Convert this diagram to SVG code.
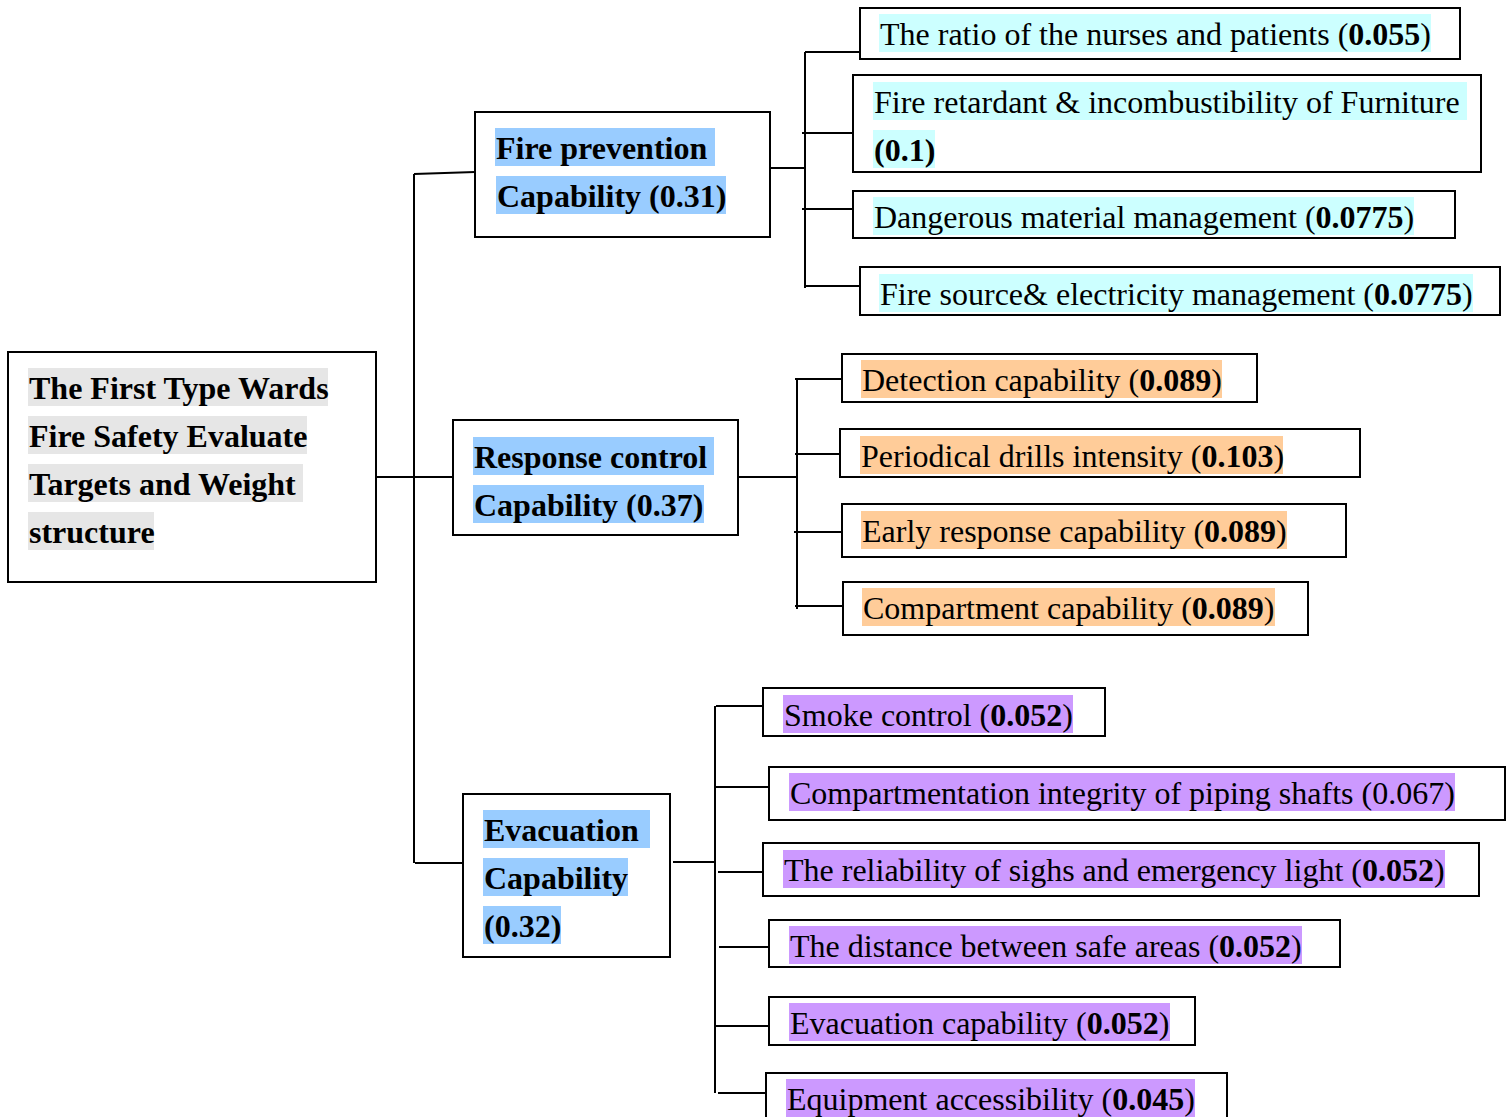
<svg xmlns="http://www.w3.org/2000/svg" width="1512" height="1117" viewBox="0 0 1512 1117">
<style>
.box{fill:#fff;stroke:#000;stroke-width:2}
.t{font-family:"Liberation Serif","Times New Roman",serif;font-size:32px;fill:#000}
.b{font-weight:bold}
.gray{fill:#e6e6e6}.blue{fill:#99ccff}.cyan{fill:#ccffff}.orange{fill:#ffcc99}.purple{fill:#cc99ff}
.con{stroke:#000;stroke-width:2;fill:none}
</style>
<rect width="1512" height="1117" fill="#fff"/>
<g id="connectors">
<path class="con" d="M376 477H453M414 174V863M414 174L475 172M415 863H463"/>
<path class="con" d="M770 168H805M805 52V288M805 52H860M802 133H855M802 209H855M806 286H862"/>
<path class="con" d="M738 477H798M797 379V609M795 379H845M795 454H842M794 532H845M795 606H845"/>
<path class="con" d="M673 862H715M715 706V1093M716 706H763M716 787H769M718 872H768M719 947H769M715 1026H769M718 1093H768"/>
</g>
<g id="root">
<rect class="box" x="8" y="352" width="368" height="230"/>
<rect class="gray" x="28" y="368" width="300" height="38"/>
<rect class="gray" x="28" y="416" width="279" height="38"/>
<rect class="gray" x="28" y="464" width="275" height="38"/>
<rect class="gray" x="28" y="512" width="126" height="38"/>
<text class="t b" x="29" y="399">The First Type Wards</text>
<text class="t b" x="29" y="447">Fire Safety Evaluate</text>
<text class="t b" x="29" y="495">Targets and Weight</text>
<text class="t b" x="29" y="543">structure</text>
</g>
<g id="fire-prevention">
<rect class="box" x="475" y="112" width="295" height="125"/>
<rect class="blue" x="495" y="128" width="220" height="38"/>
<rect class="blue" x="496" y="176" width="230" height="38"/>
<text class="t b" x="496" y="159">Fire prevention</text>
<text class="t b" x="497" y="207">Capability (0.31)</text>
</g>
<g id="response-control">
<rect class="box" x="453" y="420" width="285" height="115"/>
<rect class="blue" x="473" y="437" width="241" height="38"/>
<rect class="blue" x="473" y="485" width="231" height="38"/>
<text class="t b" x="474" y="468">Response control</text>
<text class="t b" x="474" y="516">Capability (0.37)</text>
</g>
<g id="evacuation">
<rect class="box" x="463" y="794" width="207" height="163"/>
<rect class="blue" x="483" y="810" width="167" height="38"/>
<rect class="blue" x="483" y="858" width="145" height="38"/>
<rect class="blue" x="483" y="906" width="78" height="38"/>
<text class="t b" x="484" y="841">Evacuation</text>
<text class="t b" x="484" y="889">Capability</text>
<text class="t b" x="484" y="937">(0.32)</text>
</g>
<g id="leaf-nurses">
<rect class="box" x="860" y="8" width="600" height="51"/>
<rect class="cyan" x="879" y="14" width="552" height="38"/>
<text class="t" x="880" y="45">The ratio of the nurses and patients (<tspan class="b">0.055</tspan>)</text>
</g>
<g id="leaf-furniture">
<rect class="box" x="853" y="75" width="628" height="97"/>
<rect class="cyan" x="873" y="82" width="594" height="38"/>
<rect class="cyan" x="873" y="130" width="62" height="38"/>
<text class="t" x="874" y="113">Fire retardant &amp; incombustibility of Furniture</text>
<text class="t b" x="874" y="161">(0.1)</text>
</g>
<g id="leaf-dangerous">
<rect class="box" x="853" y="191" width="602" height="47"/>
<rect class="cyan" x="873" y="197" width="541" height="38"/>
<text class="t" x="874" y="228">Dangerous material management (<tspan class="b">0.0775</tspan>)</text>
</g>
<g id="leaf-firesource">
<rect class="box" x="860" y="267" width="640" height="48"/>
<rect class="cyan" x="879" y="274" width="594" height="38"/>
<text class="t" x="880" y="305">Fire source&amp; electricity management (<tspan class="b">0.0775</tspan>)</text>
</g>
<g id="leaf-detection">
<rect class="box" x="842" y="354" width="415" height="48"/>
<rect class="orange" x="861" y="360" width="361" height="38"/>
<text class="t" x="862" y="391">Detection capability (<tspan class="b">0.089</tspan>)</text>
</g>
<g id="leaf-drills">
<rect class="box" x="840" y="429" width="520" height="48"/>
<rect class="orange" x="860" y="436" width="423" height="38"/>
<text class="t" x="861" y="467">Periodical drills intensity (<tspan class="b">0.103</tspan>)</text>
</g>
<g id="leaf-early">
<rect class="box" x="842" y="504" width="504" height="53"/>
<rect class="orange" x="861" y="511" width="426" height="38"/>
<text class="t" x="862" y="542">Early response capability (<tspan class="b">0.089</tspan>)</text>
</g>
<g id="leaf-compartment">
<rect class="box" x="843" y="582" width="465" height="53"/>
<rect class="orange" x="862" y="588" width="413" height="38"/>
<text class="t" x="863" y="619">Compartment capability (<tspan class="b">0.089</tspan>)</text>
</g>
<g id="leaf-smoke">
<rect class="box" x="763" y="688" width="342" height="48"/>
<rect class="purple" x="783" y="695" width="290" height="38"/>
<text class="t" x="784" y="726">Smoke control (<tspan class="b">0.052</tspan>)</text>
</g>
<g id="leaf-shafts">
<rect class="box" x="769" y="767" width="736" height="53"/>
<rect class="purple" x="789" y="773" width="666" height="38"/>
<text class="t" x="790" y="804">Compartmentation integrity of piping shafts (0.067)</text>
</g>
<g id="leaf-signs">
<rect class="box" x="763" y="843" width="716" height="53"/>
<rect class="purple" x="783" y="850" width="662" height="38"/>
<text class="t" x="784" y="881">The reliability of sighs and emergency light (<tspan class="b">0.052</tspan>)</text>
</g>
<g id="leaf-distance">
<rect class="box" x="769" y="920" width="571" height="47"/>
<rect class="purple" x="789" y="926" width="513" height="38"/>
<text class="t" x="790" y="957">The distance between safe areas (<tspan class="b">0.052</tspan>)</text>
</g>
<g id="leaf-evaccap">
<rect class="box" x="769" y="997" width="426" height="48"/>
<rect class="purple" x="789" y="1003" width="381" height="38"/>
<text class="t" x="790" y="1034">Evacuation capability (<tspan class="b">0.052</tspan>)</text>
</g>
<g id="leaf-equipment">
<rect class="box" x="766" y="1073" width="461" height="60"/>
<rect class="purple" x="786" y="1079" width="409" height="38"/>
<text class="t" x="787" y="1110">Equipment accessibility (<tspan class="b">0.045</tspan>)</text>
</g>
</svg>
